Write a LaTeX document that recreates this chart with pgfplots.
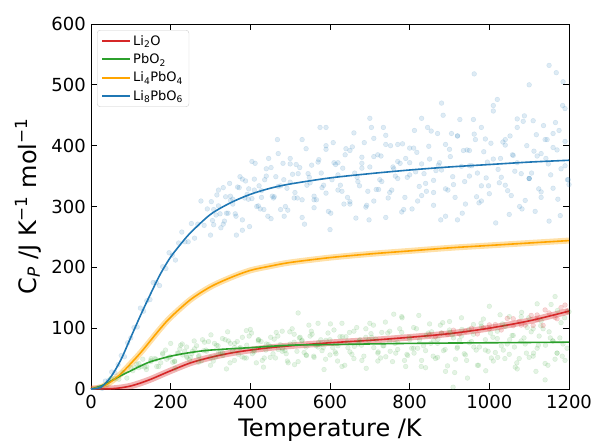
\documentclass[border=0pt]{standalone}
\usepackage{fontspec}
\setmainfont{DejaVu Sans}
\usepackage{pgfplots}
\pgfplotsset{compat=1.18}
\definecolor{cred}{HTML}{D62728}
\definecolor{cgreen}{HTML}{2CA02C}
\definecolor{corange}{HTML}{FFA500}
\definecolor{cblue}{HTML}{1F77B4}
\begin{document}
\begin{tikzpicture}
\begin{axis}[
  scale only axis, width=478pt, height=365pt,
  xmin=0, xmax=1200, ymin=0, ymax=600,
  xtick={0,200,...,1200}, ytick={0,100,...,600},
  tick align=inside, tick pos=both,
  major tick length=6pt,
  tick style={black, line width=0.8pt},
  axis line style={black, line width=0.8pt},
  /pgf/number format/assume math mode=true,
  /pgf/number format/1000 sep={},
  ticklabel style={font=\fontsize{18}{20}\selectfont},
  xticklabel style={anchor=north, inner sep=0pt, yshift=-6pt},
  yticklabel style={anchor=east, inner sep=0pt, xshift=-5pt},
  xlabel={Temperature /K},
  ylabel={C\textsubscript{\textit{P}} /J K\textsuperscript{−1} mol\textsuperscript{−1}},
  label style={font=\fontsize{24}{26}\selectfont},
  xlabel style={at={(axis description cs:0.5,-0.1288)}, anchor=base},
  ylabel style={at={(axis description cs:-0.1318,0.5)}, anchor=center},
  legend style={at={(axis description cs:0,1)}, anchor=north west, xshift=6pt, yshift=-6pt,
    draw=black!20, rounded corners=3pt, fill=white, fill opacity=0.8, text opacity=1,
    font=\fontsize{13}{15}\selectfont, inner xsep=4pt, inner ysep=3pt, row sep=3pt,
    cells={anchor=west}},
  legend image code/.code={\draw[#1, line width=2pt] (0pt,0pt) -- (28pt,0pt);},
]
\coordinate (sw) at (rel axis cs:0,0);
\coordinate (ne) at (rel axis cs:1,1);
% scatter clouds
\addplot[only marks, mark=*, color=cblue, opacity=0.15, mark size=2.4pt, forget plot] coordinates {
(20,3)(28,1)(36,13)(44,14)(52,28)(60,27)(68,40)(76,55)(84,53)(92,76)(100,84)(108,101)(116,102)(124,133)(132,128)(140,145)(148,147)(156,175)(164,175)(172,170)(180,201)(188,198)(196,224)(204,220)(212,212)(220,240)(228,258)(236,242)(244,242)(252,272)(260,248)(268,271)(276,309)(284,269)(292,296)(300,253)(308,295)(316,319)(324,288)(332,271)(340,289)(348,338)(356,312)(364,284)(372,331)(380,261)(388,342)(396,329)(404,313)(412,371)(420,301)(428,326)(436,344)(444,284)(452,364)(460,316)(468,410)(476,295)(484,344)(492,330)(500,370)(510,314)(520,354)(530,282)(540,395)(550,339)(560,311)(570,373)(580,331)(590,394)(600,262)(610,372)(620,352)(630,325)(640,395)(650,308)(660,421)(670,341)(680,381)(690,299)(700,365)(710,309)(720,385)(730,341)(740,417)(750,323)(760,362)(770,402)(780,291)(790,379)(800,352)(810,396)(820,309)(830,445)(840,338)(850,378)(860,323)(870,420)(880,360)(890,284)(900,394)(910,336)(920,416)(930,366)(940,304)(950,392)(960,443)(970,355)(980,334)(990,411)(1000,321)(1010,378)(1020,476)(1030,348)(1040,410)(1050,287)(1060,384)(1070,430)(1080,354)(1090,310)(1100,346)(1110,441)(1120,383)(1130,324)(1140,410)(1150,276)(1160,420)(1170,393)(1180,362)(1190,461)(1200,336)
(305,277)(320,327)(335,276)(350,317)(365,253)(380,345)(395,312)(410,327)(425,296)(440,350)(455,317)(470,387)(485,284)(500,340)(515,369)(530,311)(545,354)(560,298)(575,430)(590,322)(605,344)(620,372)(635,304)(650,392)(665,281)(680,363)(695,325)(710,412)(725,344)(740,402)(755,327)(770,374)(785,295)(800,396)(815,357)(830,318)(845,430)(860,343)(875,372)(890,329)(905,420)(920,278)(935,392)(950,350)(965,410)(980,309)(995,373)(1010,457)(1025,339)(1040,401)(1055,318)(1070,372)(1085,440)(1100,346)(1115,292)(1130,387)(1145,410)(1160,330)(1175,425)(1190,367)
(1150,532)(1168,520)(962,518)(1185,505)(880,470)(1100,500)(700,445)(590,430)
(302,308)(314,286)(326,265)(338,316)(350,310)(362,288)(374,349)(386,314)(398,267)(410,345)(422,334)(434,295)(446,379)(458,314)(470,333)(482,371)(494,294)(506,353)(518,314)(530,410)(542,335)(554,368)(566,311)(578,355)(590,400)(602,289)(614,369)(626,335)(638,385)(650,304)(662,355)(674,334)(686,405)(698,278)(710,382)(722,328)(734,430)(746,314)(758,365)(770,346)
(782,403)(794,348)(806,296)(818,389)(830,370)(842,325)(854,424)(866,359)(878,278)(890,402)(902,382)(914,315)(926,443)(938,341)(950,367)(962,419)(974,306)(986,390)(998,334)(1010,466)(1022,361)(1034,406)(1046,326)(1058,385)(1070,444)(1082,296)(1094,400)(1106,355)(1118,418)(1130,315)(1142,379)(1154,352)(1166,438)(1178,285)(1190,407)(1198,344)
(308,270)(320,301)(332,331)(344,289)(356,304)(368,332)(380,278)(392,320)(404,374)(416,300)(428,315)(440,362)(452,280)(464,349)(476,334)(488,300)(500,379)(512,323)(524,364)(536,271)(548,348)(560,317)(572,377)(584,335)(596,292)(608,405)(620,327)(632,363)(644,315)(656,398)(668,348)(680,371)(692,302)(704,430)(716,328)(728,383)(740,282)(752,400)(764,350)(776,371)
(788,315)(800,372)(812,425)(824,333)(836,354)(848,399)(860,302)(872,368)(884,450)(896,327)(908,349)(920,416)(932,289)(944,393)(956,367)(968,316)(980,430)(992,347)(1004,404)(1016,273)(1028,379)(1040,335)(1052,416)(1064,358)(1076,300)(1088,449)(1100,346)(1112,391)(1124,329)(1136,433)(1148,370)(1160,397)(1172,312)(1184,466)(1196,344)
};
\addplot[only marks, mark=*, color=cgreen, opacity=0.13, mark size=2.4pt, forget plot] coordinates {
(40,8)(50,17.5)(60,17)(70,16)(80,27)(90,18)(100,35)(110,35)(120,35)(130,49)(140,37)(150,45)(160,50)(170,37)(180,59)(190,49)(200,75)(210,45)(220,59)(230,56)(240,69)(250,52)(260,66)(270,44)(280,81)(290,62)(300,52)(310,75)(320,60)(330,83)(340,33)(350,75)(360,68)(370,57)(380,85)(390,51)(400,98)(410,64)(420,81)(430,47)(440,74)(450,52)(460,82)(470,65)(480,95)(490,58)(500,74)(510,90)(520,45)(530,80)(540,69)(550,87)(560,52)(570,108)(580,63)(590,80)(600,56)(610,97)(620,71)(630,37)(640,86)(650,61)(660,95)(670,74)(680,47)(690,85)(700,108)(710,68)(720,59)(730,93)(740,53)(750,78)(760,123)(770,65)(780,93)(790,37)(800,81)(810,101)(820,67)(830,47)(840,63)(850,107)(860,80)(870,52)(880,92)(890,29)(900,97)(910,84)(920,69)(930,117)(940,56)(950,76)(960,90)(970,39)(980,103)(990,64)(1000,136)(1010,46)(1020,83)(1030,71)(1040,103)(1050,57)(1060,88)(1070,33)(1080,119)(1090,74)(1100,52)(1110,99)(1120,67)(1130,112)(1140,15)(1150,94)(1160,79)(1170,59)(1180,109)(1190,47)(1200,127)
(105,30)(120,42)(135,36)(150,47)(165,37)(180,57)(195,52)(210,46)(225,72)(240,54)(255,62)(270,53)(285,77)(300,39)(315,72)(330,60)(345,79)(360,47)(375,68)(390,96)(405,58)(420,79)(435,51)(450,70)(465,93)(480,62)(495,43)(510,77)(525,85)(540,56)(555,90)(570,69)(585,32)(600,81)(615,58)(630,108)(645,68)(660,50)(675,81)(690,99)(705,85)(720,46)(735,71)(750,95)(765,59)(780,119)(795,55)(810,67)(825,81)(840,35)(855,94)(870,75)(885,63)(900,111)(915,49)(930,87)(945,18)(960,106)(975,69)(990,81)(1005,51)(1020,95)(1035,64)(1050,119)(1065,36)(1080,79)(1095,101)(1110,54)(1125,87)(1140,42)(1155,139)(1170,59)(1185,74)
(909,3)(1165,152)(1120,140)(520,125)
(115,40.5)(127,37)(139,32)(151,50)(163,49)(175,43)(187,64)(199,53)(211,34)(223,66)(235,62)(247,48)(259,79)(271,55)(283,63)(295,78)(307,46)(319,71)(331,55)(343,94)(355,63)(367,78)(379,53)(391,72)(403,92)(415,43)(427,78)(439,64)(451,85)(463,51)(475,73)(487,63)(499,94)(511,40)(523,84)(535,60)(547,105)(559,54)(571,76)(583,68)
(595,92)(607,68)(619,46)(631,86)(643,77)(655,57)(667,101)(679,72)(691,34)(703,91)(715,82)(727,51)(739,110)(751,62)(763,75)(775,99)(787,47)(799,85)(811,59)(823,121)(835,71)(847,92)(859,54)(871,82)(883,109)(895,38)(907,89)(919,67)(931,98)(943,47)(955,78)(967,64)(979,108)(991,30)(1003,92)(1015,60)(1027,122)(1039,50)(1051,81)(1063,69)
(1075,50)(1087,84)(1099,117)(1111,59)(1123,72)(1135,99)(1147,39)(1159,79)(1171,129)(1183,54)(1195,67)
(205,44)(217,59)(229,74)(241,52)(253,58)(265,71)(277,46)(289,64)(301,89)(313,53)(325,60)(337,81)(349,43)(361,75)(373,67)(385,51)(397,87)(409,61)(421,81)(433,36)(445,73)(457,58)(469,87)(481,66)(493,46)(505,99)(517,62)(529,79)(541,55)(553,95)(565,71)(577,81)(589,49)(601,107)(613,61)(625,86)(637,39)(649,93)(661,70)(673,79)
(685,54)(697,80)(709,105)(721,61)(733,71)(745,92)(757,45)(769,77)(781,117)(793,57)(805,67)(817,99)(829,37)(841,88)(853,75)(865,50)(877,105)(889,65)(901,93)(913,27)(925,80)(937,58)(949,98)(961,69)(973,39)(985,115)(997,62)(1009,85)(1021,52)(1033,107)(1045,74)(1057,88)(1069,43)(1081,126)(1093,59)(1105,94)(1117,29)(1129,104)(1141,72)(1153,84)(1165,49)(1177,84)(1189,117)
};
\addplot[only marks, mark=*, color=cred, opacity=0.18, mark size=2.4pt, forget plot] coordinates {
(850,88.6)(865,86)(880,92)(895,89.5)(910,96.7)(925,90.5)(940,95)(955,99.8)(970,90.5)(985,100.6)(1000,99)(1015,105.9)(1030,97)(1045,116)(1060,104)(1075,111)(1090,105)(1105,121)(1120,114.5)(1135,104.6)(1150,125)(1165,117.5)(1180,133.8)(1195,127.2)(1060,115.5)(1110,104.6)(1140,130)(1170,115.5)(1190,138)(1120,121.7)(1080,105)(1000,105.4)
};
% bands
\addplot[corange, line width=6pt, opacity=0.35, smooth, forget plot] coordinates {
(0,0)(25,3)(50,12)(75,25)(100,42)(125,60)(150,80)(175,100)(200,118)(250,147)(300,168)(350,183)(400,195)(450,202)(500,208)(600,216)(700,222)(800,227)(900,232)(1000,236)(1100,240)(1200,244)};
\addplot[cred, line width=6.5pt, opacity=0.35, smooth, forget plot] coordinates {
(0,0)(50,0.5)(75,2)(100,5)(125,10)(150,16)(175,23)(200,30)(250,43)(300,52)(350,59)(400,64)(450,68)(500,71)(600,76)(700,80)(800,85)(900,91)(1000,100)(1100,112)(1200,128)};
% curves
\addplot[cred, line width=1.6pt, smooth] coordinates {
(0,0)(50,0.5)(75,2)(100,5)(125,10)(150,16)(175,23)(200,30)(250,43)(300,52)(350,59)(400,64)(450,68)(500,71)(600,76)(700,80)(800,85)(900,91)(1000,100)(1100,112)(1200,128)};
\addlegendentry{Li\textsubscript{2}O}
\addplot[cgreen, line width=1.6pt, smooth] coordinates {
(0,0)(25,5)(50,13)(75,22)(100,30)(125,38)(150,45)(200,54)(250,60)(300,64)(400,68)(500,72)(600,73)(800,75)(1000,76)(1200,77)};
\addlegendentry{PbO\textsubscript{2}}
\addplot[corange, line width=1.6pt, smooth] coordinates {
(0,0)(25,3)(50,12)(75,25)(100,42)(125,60)(150,80)(175,100)(200,118)(250,147)(300,168)(350,183)(400,195)(450,202)(500,208)(600,216)(700,222)(800,227)(900,232)(1000,236)(1100,240)(1200,244)};
\addlegendentry{Li\textsubscript{4}PbO\textsubscript{4}}
\addplot[cblue, line width=1.6pt, smooth] coordinates {
(0,0)(25,3)(50,20)(75,48)(100,85)(125,122)(150,157)(175,190)(200,217)(225,238)(250,257)(300,287)(350,306)(400,320)(450,330)(500,337)(600,347)(700,354)(800,360)(900,365)(1000,369)(1100,373)(1200,376)};
\addlegendentry{Li\textsubscript{8}PbO\textsubscript{6}}
\end{axis}
\pgfresetboundingbox
\path[use as bounding box] ([shift={(-91pt,-52pt)}]sw) rectangle ([shift={(29pt,24pt)}]ne);
\end{tikzpicture}
\end{document}
